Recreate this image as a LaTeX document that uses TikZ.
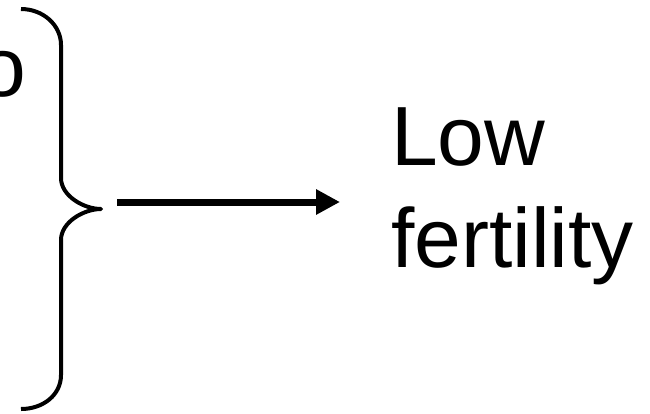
\documentclass[tikz,border=0pt]{standalone}
\usepackage{fontspec}
\setmainfont{Liberation Sans}
\usetikzlibrary{arrows.meta}
\begin{document}
\begin{tikzpicture}[x=1pt,y=-1pt,
  bigtext/.style={font=\fontsize{84}{101}\selectfont, inner sep=0pt, anchor=base west},
  bracestroke/.style={line width=4pt, line cap=butt, line join=round},
  bigarrow/.style={line width=7pt, -{Triangle[length=24pt,width=24pt]}}]
\clip (0,0) rectangle (650,413);
\fill[white] (0,0) rectangle (650,413);
% partial letter at the left edge
\node[bigtext] (lefttext) at (-21,96) {o};
% brace
\draw[bracestroke] (21,9) .. controls (43,9) and (61,25) .. (61,45)
  -- (61,178) .. controls (61,196) and (84,209) .. (101,209)
  .. controls (84,209) and (61,222) .. (61,240)
  -- (61,375) .. controls (61,395) and (43,409) .. (21,409);
\coordinate (cusp) at (101,209);
% text
\node[bigtext] (low) at (391,165) {Low};
\node[bigtext] (fert) at ([yshift=-102pt]low.base west) {fertility};
% arrow
\coordinate (arrowstart) at (117,202);
\coordinate (arrowend) at (340,202);
\draw[bigarrow] (arrowstart) -- (arrowend);
\end{tikzpicture}
\end{document}
